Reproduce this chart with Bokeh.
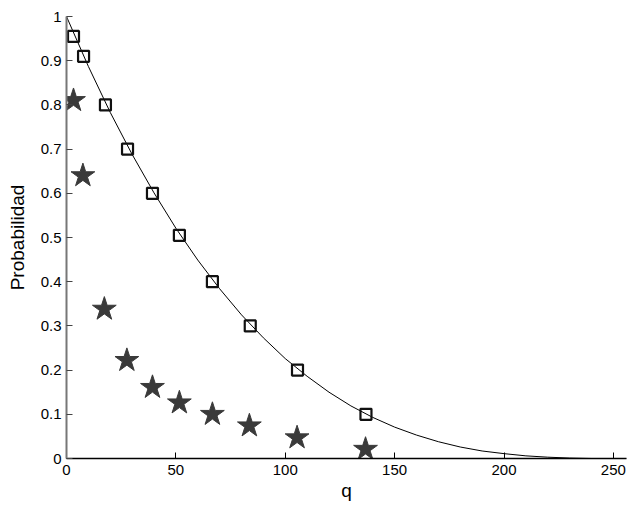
from bokeh.plotting import figure
from bokeh.models import Range1d, FixedTicker
from bokeh.embed import file_html
from bokeh.resources import INLINE

# Curve
curve_q = [0, 10, 20, 30, 40, 50, 60, 70, 80, 90, 100, 110, 120, 130, 140, 150,
           160, 170, 180, 190, 200, 210, 220, 230, 240, 256]
curve_p = [1.0, 0.887, 0.783, 0.688, 0.601, 0.521, 0.449, 0.384, 0.325, 0.273,
           0.226, 0.186, 0.150, 0.119, 0.093, 0.071, 0.053, 0.038, 0.026, 0.017,
           0.011, 0.006, 0.003, 0.001, 0.0, 0.0]

# Square markers
sq_q = [3.2, 7.8, 17.8, 27.9, 39.3, 51.6, 66.7, 84.0, 105.6, 136.9]
sq_p = [0.955, 0.91, 0.80, 0.70, 0.60, 0.505, 0.40, 0.30, 0.20, 0.10]

# Star markers
st_q = [3.2, 7.5, 17.3, 27.6, 39.3, 51.6, 66.7, 83.6, 105.4, 136.7]
st_p = [0.81, 0.64, 0.338, 0.222, 0.161, 0.126, 0.100, 0.074, 0.047, 0.021]

x_ticks = [0, 50, 100, 150, 200, 250]
y_ticks = [0, 0.1, 0.2, 0.3, 0.4, 0.5, 0.6, 0.7, 0.8, 0.9, 1.0]

p = figure(width=627, height=507, output_backend="svg", toolbar_location=None,
           x_range=Range1d(0, 256), y_range=Range1d(0, 1),
           min_border_left=66, min_border_right=1, min_border_top=16,
           min_border_bottom=49)
p.outline_line_color = None
p.xgrid.visible = False
p.ygrid.visible = False
p.background_fill_color = "white"

p.line(curve_q, curve_p, line_color="black", line_width=1)
p.scatter(sq_q, sq_p, marker="square", size=11, fill_color=None,
          line_color="#111111", line_width=2.2)
p.scatter(st_q, st_p, marker="star", size=25, fill_color="#3a3a3a",
          line_color="#3a3a3a", line_width=1)

for ax in (p.xaxis[0], p.yaxis[0]):
    ax.major_label_text_font = "Liberation Sans"
    ax.major_label_text_font_size = "15px"
    ax.major_label_text_color = "black"
    ax.axis_label_text_font = "Liberation Sans"
    ax.axis_label_text_font_size = "19px"
    ax.axis_label_text_font_style = "normal"
    ax.axis_label_text_color = "black"
    ax.major_tick_in = 6
    ax.major_tick_out = 0
    ax.minor_tick_in = 0
    ax.minor_tick_out = 0
    ax.major_tick_line_color = "black"

p.xaxis.major_label_standoff = 6
p.yaxis.major_label_standoff = 5
p.xaxis.ticker = FixedTicker(ticks=x_ticks)
p.yaxis.ticker = FixedTicker(ticks=y_ticks)
p.yaxis.major_label_overrides = {0: "0", 1: "1"}
p.xaxis.axis_label = "q"
p.yaxis.axis_label = "Probabilidad"
p.xaxis.axis_label_standoff = 2
p.yaxis.axis_label_standoff = 10
p.xaxis.axis_line_color = "black"
p.xaxis.axis_line_width = 1.5
p.yaxis.axis_line_color = "#777777"
p.yaxis.axis_line_width = 2
p.yaxis.major_tick_line_color = "#444444"

open("out.html", "w").write(file_html(p, INLINE))
